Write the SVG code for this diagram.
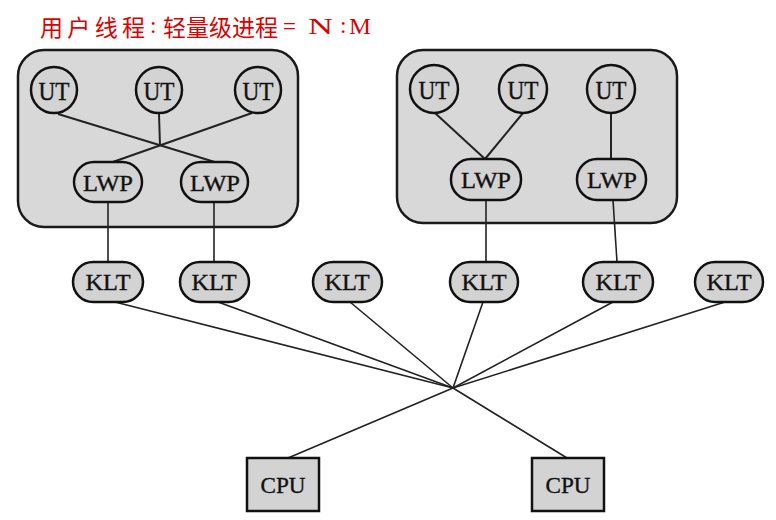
<svg xmlns="http://www.w3.org/2000/svg" width="776" height="520" viewBox="0 0 776 520">
<defs>
<style>
.box{fill:#d8d8d8;stroke:#1a1a1a;stroke-width:2.5}
.node{fill:#d3d3d3;stroke:#111;stroke-width:2.5}
.lbl{font-family:"Liberation Serif","Times New Roman",serif;font-size:24px;fill:#111;stroke:#111;stroke-width:0.35;text-anchor:middle;dominant-baseline:central}
.ut{font-size:26px}
.ln{stroke:#222;stroke-width:1.6;fill:none}
.ln2{stroke:#222;stroke-width:2;fill:none}
.title{font-family:"Liberation Serif","Noto Sans CJK SC",serif;fill:#e00000;font-size:23px}
.tcjk{font-family:"Noto Sans CJK SC",sans-serif;fill:#e00000;font-size:23px}
</style>
</defs>
<rect width="776" height="520" fill="#ffffff"/>
<g id="title">
<text class="tcjk" x="40" y="36" textLength="105" lengthAdjust="spacing">用户线程</text>
<text class="title" x="150" y="33">:</text>
<text class="tcjk" x="163" y="36" textLength="115" lengthAdjust="spacing">轻量级进程</text>
<text class="title" x="283" y="34">=</text>
<text class="title" x="308" y="34" textLength="25" lengthAdjust="spacingAndGlyphs">N</text>
<text class="title" x="340" y="33">:</text>
<text class="title" x="349" y="34" textLength="22" lengthAdjust="spacingAndGlyphs">M</text>
</g>
<g id="process1"><rect class="box" x="18" y="50" width="280" height="177" rx="26"/></g>
<g id="process2"><rect class="box" x="397" y="50" width="280" height="173" rx="26"/></g>
<g id="connectors">
<line class="ln2" x1="58" y1="114" x2="218" y2="163"/>
<line class="ln2" x1="252" y1="113" x2="110" y2="163"/>
<line class="ln2" x1="159" y1="114" x2="160" y2="146"/>
<line class="ln" x1="108" y1="202" x2="108" y2="262"/>
<line class="ln" x1="214" y1="202" x2="214" y2="262"/>
<line class="ln2" x1="435" y1="113" x2="485" y2="159"/>
<line class="ln2" x1="523" y1="113" x2="485" y2="159"/>
<line class="ln2" x1="611" y1="114" x2="611" y2="159"/>
<line class="ln" x1="486" y1="200" x2="486" y2="262"/>
<line class="ln" x1="613" y1="200" x2="617" y2="262"/>
<line class="ln" x1="115" y1="302" x2="453" y2="388"/>
<line class="ln" x1="218" y1="302" x2="453" y2="388"/>
<line class="ln" x1="350" y1="302" x2="453" y2="388"/>
<line class="ln" x1="483" y1="302" x2="453" y2="388"/>
<line class="ln" x1="613" y1="302" x2="453" y2="388"/>
<line class="ln" x1="725" y1="302" x2="453" y2="388"/>
<line class="ln" x1="288" y1="458" x2="453" y2="388"/>
<line class="ln" x1="567" y1="458" x2="453" y2="388"/>
</g>
<g id="ut1"><circle class="node" cx="54" cy="90" r="23"/><text class="lbl ut" x="54" y="91" textLength="31" lengthAdjust="spacingAndGlyphs">UT</text></g>
<g id="ut2"><circle class="node" cx="159" cy="90" r="23"/><text class="lbl ut" x="159" y="91" textLength="31" lengthAdjust="spacingAndGlyphs">UT</text></g>
<g id="ut3"><circle class="node" cx="258" cy="90" r="23"/><text class="lbl ut" x="258" y="91" textLength="31" lengthAdjust="spacingAndGlyphs">UT</text></g>
<g id="lwp1"><rect class="node" x="74" y="162" width="68" height="40" rx="20"/><text class="lbl" x="108" y="183" textLength="50" lengthAdjust="spacingAndGlyphs">LWP</text></g>
<g id="lwp2"><rect class="node" x="181" y="162" width="67" height="40" rx="20"/><text class="lbl" x="215" y="183" textLength="50" lengthAdjust="spacingAndGlyphs">LWP</text></g>
<g id="ut4"><circle class="node" cx="434" cy="89" r="24"/><text class="lbl ut" x="434" y="90" textLength="31" lengthAdjust="spacingAndGlyphs">UT</text></g>
<g id="ut5"><circle class="node" cx="523" cy="89" r="24"/><text class="lbl ut" x="523" y="90" textLength="31" lengthAdjust="spacingAndGlyphs">UT</text></g>
<g id="ut6"><circle class="node" cx="611" cy="89" r="24"/><text class="lbl ut" x="611" y="90" textLength="31" lengthAdjust="spacingAndGlyphs">UT</text></g>
<g id="lwp3"><rect class="node" x="451" y="159" width="70" height="41" rx="20"/><text class="lbl" x="486" y="180" textLength="50" lengthAdjust="spacingAndGlyphs">LWP</text></g>
<g id="lwp4"><rect class="node" x="577" y="159" width="69" height="41" rx="20"/><text class="lbl" x="612" y="180" textLength="50" lengthAdjust="spacingAndGlyphs">LWP</text></g>
<g id="klt1"><rect class="node" x="73" y="262" width="70" height="40" rx="20"/><text class="lbl" x="108" y="282" textLength="45" lengthAdjust="spacingAndGlyphs">KLT</text></g>
<g id="klt2"><rect class="node" x="180" y="262" width="69" height="40" rx="20"/><text class="lbl" x="214" y="282" textLength="45" lengthAdjust="spacingAndGlyphs">KLT</text></g>
<g id="klt3"><rect class="node" x="313" y="262" width="69" height="40" rx="20"/><text class="lbl" x="347" y="282" textLength="45" lengthAdjust="spacingAndGlyphs">KLT</text></g>
<g id="klt4"><rect class="node" x="450" y="262" width="68" height="40" rx="20"/><text class="lbl" x="484" y="282" textLength="45" lengthAdjust="spacingAndGlyphs">KLT</text></g>
<g id="klt5"><rect class="node" x="583" y="262" width="70" height="40" rx="20"/><text class="lbl" x="618" y="282" textLength="45" lengthAdjust="spacingAndGlyphs">KLT</text></g>
<g id="klt6"><rect class="node" x="695" y="262" width="68" height="40" rx="20"/><text class="lbl" x="729" y="282" textLength="45" lengthAdjust="spacingAndGlyphs">KLT</text></g>
<g id="cpu1"><rect class="node" x="247" y="458" width="72" height="53"/><text class="lbl" x="283" y="485" textLength="45" lengthAdjust="spacingAndGlyphs">CPU</text></g>
<g id="cpu2"><rect class="node" x="532" y="458" width="72" height="53"/><text class="lbl" x="568" y="485" textLength="45" lengthAdjust="spacingAndGlyphs">CPU</text></g>
</svg>
